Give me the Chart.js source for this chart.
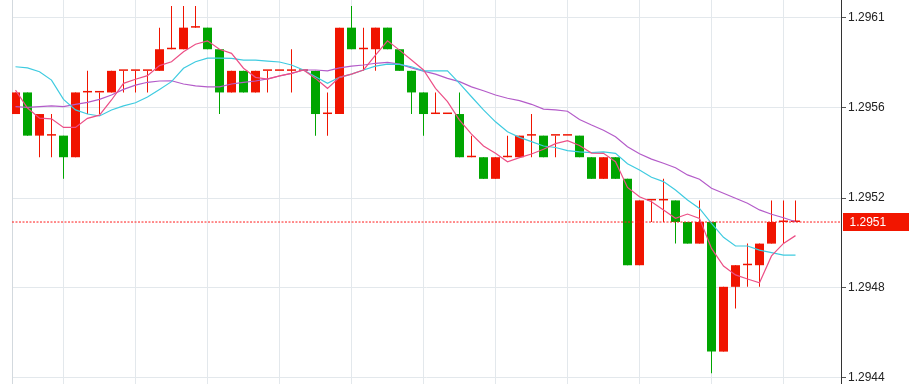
<!DOCTYPE html>
<html><head><meta charset="utf-8">
<script src="https://cdn.jsdelivr.net/npm/chart.js@4"></script>
<style>html,body{margin:0;padding:0;background:#fff;overflow:hidden}#wrap{width:909px;height:384px}</style>
</head><body><div id="wrap"><canvas id="c" width="909" height="384"></canvas></div>
<script>
const opens = [1.29562,1.29572,1.29552,1.29552,1.29552,1.29542,1.29572,1.29572,1.29572,1.29582,
1.29582,1.29582,1.29582,1.29592,1.29592,1.29602,1.29602,1.29592,1.29572,1.29582,
1.29572,1.29582,1.29582,1.29582,1.29582,1.29582,1.29562,1.29562,1.29602,1.29592,
1.29592,1.29602,1.29592,1.29582,1.29572,1.29562,1.29562,1.29562,1.29542,1.29542,
1.29532,1.29542,1.29542,1.29552,1.29552,1.29552,1.29552,1.29552,1.29542,1.29532,
1.29542,1.29532,1.29492,1.29522,1.29522,1.29522,1.29512,1.29502,1.29512,1.29452,
1.29482,1.29492,1.29492,1.29502,1.29512,1.29512];
const highs = [1.29572,1.29572,1.29562,1.29562,1.29552,1.29572,1.29582,1.29572,1.29582,1.29582,
1.29582,1.29582,1.29602,1.29612,1.29612,1.29612,1.29602,1.29592,1.29582,1.29582,
1.29582,1.29582,1.29582,1.29592,1.29582,1.29582,1.29572,1.29602,1.29612,1.29602,
1.29602,1.29602,1.29592,1.29582,1.29572,1.29572,1.29562,1.29572,1.29552,1.29542,
1.29542,1.29552,1.29552,1.29562,1.29552,1.29552,1.29552,1.29552,1.29542,1.29542,
1.29542,1.29532,1.29522,1.29522,1.29532,1.29522,1.29512,1.29522,1.29512,1.29482,
1.29492,1.29502,1.29502,1.29522,1.29522,1.29522];
const lows = [1.29562,1.29552,1.29542,1.29542,1.29532,1.29542,1.29562,1.29562,1.29572,1.29572,
1.29572,1.29572,1.29582,1.29592,1.29592,1.29602,1.29592,1.29562,1.29572,1.29572,
1.29572,1.29572,1.29582,1.29572,1.29582,1.29552,1.29552,1.29562,1.29592,1.29582,
1.29582,1.29592,1.29582,1.29562,1.29552,1.29562,1.29562,1.29542,1.29542,1.29532,
1.29532,1.29542,1.29542,1.29542,1.29542,1.29542,1.29552,1.29542,1.29532,1.29532,
1.29532,1.29492,1.29492,1.29512,1.29512,1.29502,1.29502,1.29502,1.29442,1.29452,
1.29472,1.29482,1.29482,1.29502,1.29502,1.29512];
const closes = [1.29572,1.29552,1.29562,1.29552,1.29542,1.29572,1.29572,1.29572,1.29582,1.29582,
1.29582,1.29582,1.29592,1.29592,1.29602,1.29602,1.29592,1.29572,1.29582,1.29572,
1.29582,1.29582,1.29582,1.29582,1.29582,1.29562,1.29562,1.29602,1.29592,1.29592,
1.29602,1.29592,1.29582,1.29572,1.29562,1.29562,1.29562,1.29542,1.29542,1.29532,
1.29542,1.29542,1.29552,1.29552,1.29542,1.29552,1.29552,1.29542,1.29532,1.29542,
1.29532,1.29492,1.29522,1.29522,1.29522,1.29512,1.29502,1.29512,1.29452,1.29482,
1.29492,1.29492,1.29502,1.29512,1.29512,1.29512];
const maFast = [1.295731,1.295648,1.295601,1.295598,1.295558,1.295558,1.2956,1.295615,1.295685,1.295762,
1.295781,1.295798,1.295844,1.295862,1.295908,1.295943,1.295959,1.29592,1.295901,1.295832,
1.29579,1.295782,1.295797,1.295808,1.295824,1.295785,1.295739,1.29579,1.295805,1.295824,
1.295893,1.295959,1.295916,1.29587,1.295824,1.295739,1.295677,1.295592,1.295527,1.295472,
1.295438,1.295399,1.295418,1.295435,1.295457,1.295483,1.295497,1.295474,1.295439,1.295438,
1.295399,1.29528,1.295237,1.295214,1.295176,1.295137,1.295157,1.295137,1.294998,1.294916,
1.294875,1.294856,1.294839,1.294963,1.295021,1.295057];
const maMid = [1.295839,1.295834,1.295816,1.295777,1.295688,1.295639,1.29562,1.295611,1.295639,1.295658,
1.295672,1.295699,1.295734,1.29577,1.295832,1.295862,1.295879,1.295879,1.295878,1.29587,
1.29587,1.295865,1.295861,1.295847,1.295824,1.295793,1.295762,1.29579,1.295805,1.295824,
1.295842,1.295851,1.29585,1.295839,1.29582,1.29582,1.29582,1.295762,1.2957,1.295639,
1.295584,1.295538,1.295512,1.295492,1.295472,1.295465,1.295451,1.295445,1.295441,1.295445,
1.295438,1.29539,1.295361,1.295327,1.295307,1.295268,1.295222,1.295183,1.295114,1.295049,
1.295009,1.295009,1.29499,1.294978,1.294967,1.294967];
const maSlow = [1.295654,1.295651,1.295654,1.295658,1.295654,1.295665,1.295674,1.295688,1.295708,1.295734,
1.295754,1.295767,1.295773,1.295774,1.295759,1.29575,1.295746,1.295746,1.295759,1.295767,
1.295773,1.295783,1.295796,1.295808,1.295824,1.295824,1.29582,1.295834,1.295842,1.295847,
1.295855,1.295859,1.295851,1.295834,1.295819,1.295805,1.295785,1.29577,1.295746,1.295728,
1.295708,1.295693,1.295682,1.295665,1.295643,1.295639,1.295633,1.295595,1.295569,1.295545,
1.295515,1.295469,1.295436,1.295411,1.295392,1.295371,1.295338,1.295318,1.295276,1.295253,
1.29523,1.295207,1.295176,1.295156,1.29514,1.295121];
const yTicks = [1.294398, 1.294815, 1.295231, 1.295648, 1.296065];
const yTickLabels = ['1.2944', '1.2948', '1.2952', '1.2956', '1.2961'];
const xGridAt = [4, 10, 16, 22, 28, 34, 40, 46, 52, 58, 64];
const lastPrice = 1.29512;
const lastLabel = '1.2951';

const X_MIN = -0.291667, X_MAX = 68.791667;
const Y_MIN = 1.29437, Y_MAX = 1.296148;
const UP = '#f01400', DOWN = '#00a500';
const FONT = '"Liberation Sans", Arial, sans-serif';

const idx = opens.map((_, i) => i);
const colors = idx.map(i => closes[i] < opens[i] ? DOWN : UP);
const bodies = idx.map(i => ({x: i, y: [opens[i], closes[i]]}));
const wicks = idx.map(i => ({x: i, y: [lows[i], highs[i]]}));
const line = (arr) => idx.map(i => ({x: i, y: arr[i]}));

const extras = {
  id: 'extras',
  beforeDatasetsDraw(chart) {
    const {ctx, chartArea} = chart;
    ctx.save();
    ctx.strokeStyle = '#d3d9de';
    ctx.lineWidth = 1;
    ctx.beginPath();
    ctx.moveTo(chartArea.left + 0.5, chartArea.top);
    ctx.lineTo(chartArea.left + 0.5, chartArea.bottom);
    ctx.stroke();
    ctx.restore();
  },
  afterDraw(chart) {
    const {ctx, chartArea, scales} = chart;
    const y = scales.y.getPixelForValue(lastPrice);
    ctx.save();
    ctx.fillStyle = '#f21600';
    ctx.fillRect(chartArea.right + 2, Math.round(y) - 9, chart.width - chartArea.right - 2, 18);
    ctx.fillStyle = '#ffffff';
    ctx.font = '12px ' + FONT;
    ctx.textBaseline = 'middle';
    ctx.textAlign = 'left';
    ctx.fillText(lastLabel, chartArea.right + 8.5, Math.round(y) + 0.5);
    ctx.restore();
  }
};

new Chart(document.getElementById('c'), {
  data: {
    datasets: [
      {type: 'line', data: [{x: X_MIN, y: lastPrice}, {x: X_MAX, y: lastPrice}], borderColor: '#ff1a1a',
       borderWidth: 1, borderDash: [2, 1.5], pointRadius: 0, order: -1},
      {type: 'line', data: line(maFast), borderColor: '#ec4f86', borderWidth: 1.2, pointRadius: 0, tension: 0, order: 0},
      {type: 'line', data: line(maMid), borderColor: '#3fcbe0', borderWidth: 1.2, pointRadius: 0, tension: 0, order: 0},
      {type: 'line', data: line(maSlow), borderColor: '#b45cc9', borderWidth: 1.2, pointRadius: 0, tension: 0, order: 0},
      {type: 'bar', data: bodies, backgroundColor: colors, barThickness: 9, maxBarThickness: 9, grouped: false,
       minBarLength: 1.5, borderWidth: 0, inflateAmount: 0, order: 2},
      {type: 'bar', data: wicks, backgroundColor: colors, barThickness: 1, maxBarThickness: 1, grouped: false,
       borderWidth: 0, inflateAmount: 0, order: 3}
    ]
  },
  options: {
    responsive: false,
    animation: false,
    devicePixelRatio: 1,
    events: [],
    layout: {padding: {left: 12, top: 0, right: 0, bottom: 0}},
    plugins: {legend: {display: false}, tooltip: {enabled: false}},
    scales: {
      x: {
        type: 'linear', min: X_MIN, max: X_MAX, offset: false,
        afterBuildTicks: s => { s.ticks = xGridAt.map(v => ({value: v})); },
        afterFit: s => { s.height = 0; s.paddingLeft = 0; s.paddingRight = 0; },
        ticks: {display: false},
        border: {display: false},
        grid: {color: '#e3e8ec', lineWidth: 1, drawTicks: false, offset: false}
      },
      y: {
        type: 'linear', position: 'right', min: Y_MIN, max: Y_MAX,
        afterBuildTicks: s => { s.ticks = yTicks.map(v => ({value: v})); },
        afterFit: s => { s.width = 68; s.paddingTop = 0; s.paddingBottom = 0; },
        ticks: {
          callback: (v, i) => yTickLabels[i],
          color: '#222', font: {family: FONT, size: 12}, padding: 2
        },
        border: {display: true, color: '#333', width: 1},
        grid: {color: '#e3e8ec', lineWidth: 1, tickLength: 5, tickColor: '#555'}
      }
    }
  },
  plugins: [extras]
});
</script>
</body></html>
